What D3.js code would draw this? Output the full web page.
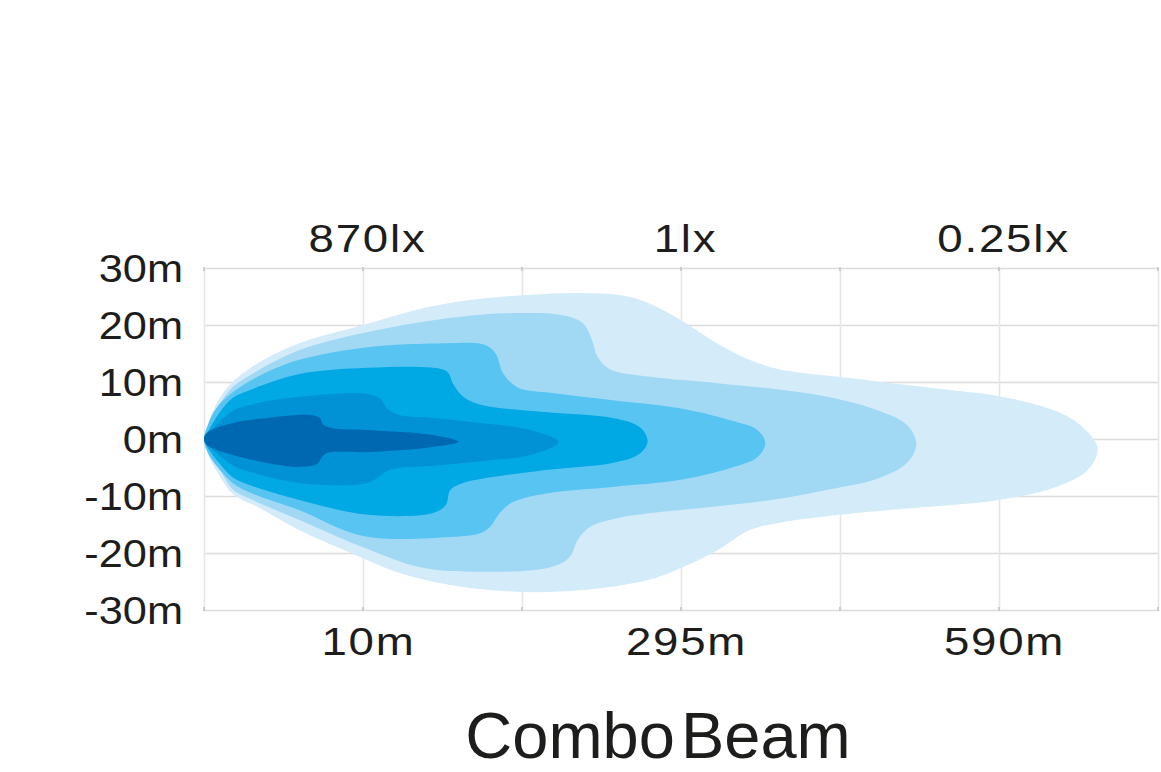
<!DOCTYPE html>
<html>
<head>
<meta charset="utf-8">
<script src="https://cdn.jsdelivr.net/npm/d3@7"></script>
<style>
  body { margin: 0; background: #fff; }
  text { font-family: "Liberation Sans", Arial, sans-serif; fill: #1d1d1b; }
</style>
</head>
<body>
<div class="chart"></div>
<script>
// distance runs in grid columns (0..6), spread in metres
const yTicks = [30, 20, 10, 0, -10, -20, -30];
const xGrid = [0, 1, 2, 3, 4, 5, 6];
const distTicks = [1, 3, 5];
const distLabels = ["10m", "295m", "590m"];
const luxLabels = ["870lx", "1lx", "0.25lx"];
const beamColors = ["#d4ebfa", "#a1d9f5", "#58c4f1", "#00a8e4", "#0092d5", "#0068b1"];

// iso-lux outlines, outermost first: [distance, spread]
const zone1 = [[0,0],[0.03,3],[0.09,6.8],[0.18,10],[0.35,13.5],[0.6,16.8],[1,20],[1.42,23.2],[1.74,24.6],[2.05,25.3],[2.38,25.6],[2.68,24.9],[2.91,22.3],[3.06,19.8],[3.23,16.7],[3.43,13.9],[3.64,12.1],[4.06,10.7],[4.38,9.6],[4.75,8.4],[5.0,7.5],[5.34,5.1],[5.51,2.5],[5.62,-1.6],[5.56,-5.4],[5.34,-8.6],[5.0,-10.7],[4.38,-12.3],[4.0,-13.3],[3.64,-14.6],[3.43,-16],[3.23,-19.5],[3.01,-22.5],[2.8,-24.7],[2.38,-26.5],[1.97,-26.8],[1.55,-25.6],[1.23,-23.5],[1.0,-20.9],[0.6,-16],[0.35,-12.1],[0.18,-9.6],[0.09,-6.1],[0.03,-3]];
const zone2 = [[0,0],[0.03,2.8],[0.1,6.3],[0.18,9.1],[0.29,11.2],[0.6,15.6],[1.0,18.6],[1.36,20.5],[1.74,21.8],[1.97,22.1],[2.24,21.8],[2.38,20.4],[2.44,17.4],[2.47,14.7],[2.55,12.3],[2.81,10.9],[3.23,9.8],[3.64,8.6],[3.92,7.4],[4.23,5.1],[4.42,2.5],[4.48,-0.9],[4.42,-4.2],[4.23,-7.0],[3.92,-8.9],[3.64,-10.4],[3.23,-11.8],[2.81,-13.0],[2.6,-13.9],[2.43,-15.4],[2.35,-17.7],[2.3,-20.7],[2.18,-22.5],[1.74,-23.3],[1.36,-22.5],[1.0,-19.0],[0.6,-14.2],[0.29,-10.5],[0.18,-8.8],[0.1,-5.4],[0.03,-2.8]];
const zone3 = [[0,0],[0.02,2.1],[0.07,5.1],[0.18,8.2],[0.5,13.0],[1.0,16.0],[1.53,16.8],[1.74,16.7],[1.8,16.0],[1.84,14.7],[1.88,11.6],[1.97,9.1],[2.18,8.1],[2.57,6.8],[2.99,5.4],[3.31,3.3],[3.48,1.6],[3.53,-0.7],[3.48,-3.2],[3.31,-5.1],[2.99,-7.2],[2.57,-8.4],[2.16,-9.5],[1.94,-11.1],[1.86,-13.0],[1.8,-15.4],[1.74,-16.5],[1.55,-17.2],[1.0,-17.0],[0.6,-12.5],[0.29,-9.4],[0.18,-7.7],[0.07,-4.4],[0.02,-2.1]];
const zone4 = [[0,0],[0.03,1.6],[0.1,4.7],[0.18,7.2],[0.29,8.6],[0.6,11.4],[1.03,12.5],[1.44,12.5],[1.53,11.8],[1.57,9.5],[1.63,7.4],[1.74,6.0],[2.16,4.7],[2.57,3.7],[2.74,2.1],[2.79,-0.4],[2.74,-2.6],[2.57,-4.2],[2.16,-5.4],[1.74,-7.0],[1.63,-7.7],[1.55,-8.9],[1.52,-11.6],[1.44,-13.0],[1.03,-13.3],[0.6,-10.7],[0.29,-8.1],[0.18,-6.7],[0.1,-4.4],[0.03,-1.8]];
const zone5 = [[0,0],[0.03,1.1],[0.18,4.9],[0.29,6.0],[0.6,7.4],[1.03,7.9],[1.11,7.0],[1.15,5.4],[1.23,4.2],[1.44,3.7],[1.74,2.8],[2.05,1.6],[2.23,-0.5],[2.05,-2.8],[1.74,-3.9],[1.44,-4.7],[1.23,-5.1],[1.15,-5.6],[1.08,-7.0],[1.0,-7.9],[0.6,-7.7],[0.29,-5.8],[0.18,-4.6],[0.03,-1.2]];
const zone6 = [[0,0],[0.02,1.1],[0.18,2.8],[0.4,3.7],[0.67,4.2],[0.73,3.7],[0.75,2.5],[0.81,1.9],[1.03,1.6],[1.44,0.7],[1.6,-0.5],[1.44,-1.4],[1.03,-2.3],[0.77,-2.5],[0.74,-3.3],[0.71,-4.4],[0.6,-4.9],[0.4,-4.2],[0.18,-2.8],[0.02,-1.1]];
const zones = [zone1, zone2, zone3, zone4, zone5, zone6];

// margin convention
const margin = {top: 268, right: 3, bottom: 162, left: 204};
const width = 1161 - margin.left - margin.right,
      height = 772 - margin.top - margin.bottom;

const svg = d3.select(".chart").append("svg")
    .attr("width", 1161)
    .attr("height", 772)
    .append("g")
    .attr("transform", `translate(${margin.left},${margin.top})`);

const xScale = d3.scaleLinear().domain([0, 6]).range([0, width]);
const yScale = d3.scaleLinear().domain([-30, 30]).range([height, 0]);

// grid: horizontal lines + y labels
const yAxisSVG = svg.append("g")
    .attr("class", "axis y-axis")
    .call(d3.axisLeft(yScale).tickValues(yTicks).tickFormat(d => d + "m")
        .tickSize(-width).tickPadding(21));

// vertical grid lines
const xGridSVG = svg.append("g")
    .attr("class", "axis x-grid")
    .attr("transform", `translate(0,${height})`)
    .call(d3.axisBottom(xScale).tickValues(xGrid).tickFormat("").tickSize(height));
xGridSVG.selectAll("line").attr("y1", -height).attr("y2", 0);

[yAxisSVG, xGridSVG].forEach(g => {
    g.select(".domain").remove();
    g.selectAll("line").attr("stroke", "#dcdcdc").attr("stroke-width", 1.6);
});
xGridSVG.selectAll("line").attr("stroke", "#e6e6e6");

// small tick marks along the frame
svg.append("g").selectAll("line").data(xGrid).join("line")
    .attr("x1", d => xScale(d)).attr("x2", d => xScale(d))
    .attr("y1", -1).attr("y2", 3)
    .attr("stroke", "#c4c4c4").attr("stroke-width", 1.6);
svg.append("g").selectAll("line").data(xGrid).join("line")
    .attr("x1", d => xScale(d)).attr("x2", d => xScale(d))
    .attr("y1", height - 3).attr("y2", height + 1)
    .attr("stroke", "#c4c4c4").attr("stroke-width", 1.6);

// beam zones
const zoneLine = d3.line()
    .x(d => xScale(d[0]))
    .y(d => yScale(d[1]))
    .curve(d3.curveCatmullRomClosed.alpha(0.5));

svg.append("g").selectAll("path").data(zones).join("path")
    .attr("d", zoneLine)
    .attr("fill", (d, i) => beamColors[i]);

// distance labels below, lux labels above
const xAxisSVG = svg.append("g")
    .attr("class", "axis x-axis")
    .attr("transform", `translate(0,${height})`)
    .call(d3.axisBottom(xScale).tickValues(distTicks)
        .tickFormat((d, i) => distLabels[i]).tickSize(0).tickPadding(18));

const luxAxisSVG = svg.append("g")
    .attr("class", "axis lux-axis")
    .call(d3.axisTop(xScale).tickValues(distTicks)
        .tickFormat((d, i) => luxLabels[i]).tickSize(0).tickPadding(16));

[xAxisSVG, luxAxisSVG].forEach(g => g.select(".domain").remove());

svg.selectAll(".axis text")
    .attr("font-family", null)
    .attr("font-size", null)
    .style("font-size", "38px")
    .attr("fill", "#1d1d1b");
yAxisSVG.selectAll("text").attr("dy", "0.36em");
xAxisSVG.selectAll("text").attr("dx", 5).style("letter-spacing", "1.5px");
luxAxisSVG.selectAll("text").attr("dx", 4).style("letter-spacing", "1.5px");

// the original labels are set in a wide face: stretch horizontally
function stretch(sel, k) {
    sel.each(function() {
        const w = this.getComputedTextLength();
        d3.select(this).attr("textLength", w * k).attr("lengthAdjust", "spacingAndGlyphs");
    });
}
stretch(yAxisSVG.selectAll("text"), 1.14);
stretch(xAxisSVG.selectAll("text"), 1.2);
stretch(luxAxisSVG.selectAll("text"), 1.2);

// title
svg.append("text")
    .attr("x", 658 - margin.left)
    .attr("y", 758 - margin.top)
    .attr("text-anchor", "middle")
    .style("font-size", "65px")
    .style("word-spacing", "-12px")
    .text("Combo Beam");
</script>
</body>
</html>
